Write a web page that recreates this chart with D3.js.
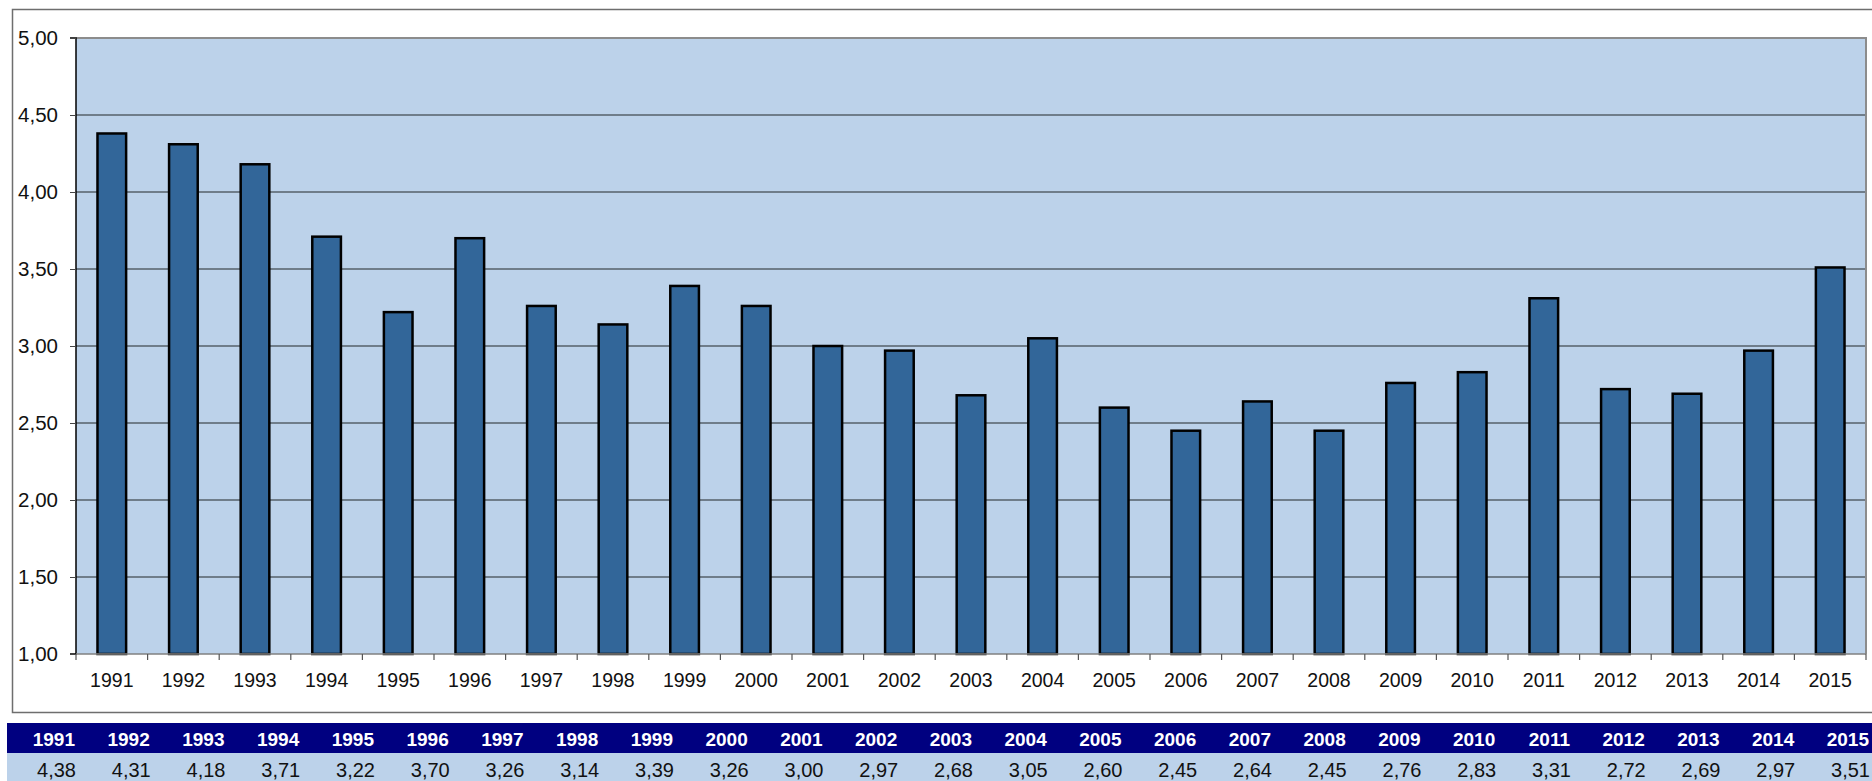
<!DOCTYPE html>
<html lang="en">
<head>
  <meta charset="UTF-8">
  <title>Values 1991-2015</title>
  <script src="https://d3js.org/d3.v7.min.js"></script>
  <style>
    body { margin: 0; background: #fff; }
    svg { display: block; font-family: "Liberation Sans", Arial, sans-serif; }
  </style>
</head>
<body>
  <svg width="1872" height="781"></svg>
  <script>
    const years = ["1991","1992","1993","1994","1995","1996","1997","1998","1999","2000",
                   "2001","2002","2003","2004","2005","2006","2007","2008","2009","2010",
                   "2011","2012","2013","2014","2015"];
    const values = [4.38, 4.31, 4.18, 3.71, 3.22, 3.70, 3.26, 3.14, 3.39, 3.26,
                    3.00, 2.97, 2.68, 3.05, 2.60, 2.45, 2.64, 2.45, 2.76, 2.83,
                    3.31, 2.72, 2.69, 2.97, 3.51];
    const yTicks = [1, 1.5, 2, 2.5, 3, 3.5, 4, 4.5, 5];

    const fmt = d => d3.format(".2f")(d).replace(".", ",");
    const svg = d3.select("svg");

    const plot = { left: 76, top: 38, right: 1866, bottom: 654 };

    // outer chart frame
    svg.append("path")
      .attr("d", "M1872,9.5H12.5V712.5H1872")
      .attr("fill", "none")
      .attr("stroke", "#6e6e6e")
      .attr("stroke-width", 1.5);

    const x = d3.scaleBand().domain(years).range([plot.left, plot.right]).paddingInner(0.6).paddingOuter(0.3);
    const y = d3.scaleLinear().domain([1, 5]).range([plot.bottom, plot.top]);

    svg.append("rect")
      .attr("x", plot.left).attr("y", plot.top)
      .attr("width", plot.right - plot.left).attr("height", plot.bottom - plot.top)
      .attr("fill", "#bcd2ea");

    // gridlines
    svg.append("g").selectAll("line")
      .data(yTicks.slice(1))
      .join("line")
      .attr("x1", plot.left).attr("x2", plot.right)
      .attr("y1", d => y(d)).attr("y2", d => y(d))
      .attr("stroke", d => d === 5 ? "#8c8c8c" : "#56606a")
      .attr("stroke-width", d => d === 5 ? 2 : 1.3);

    // right border
    svg.append("line")
      .attr("x1", plot.right).attr("x2", plot.right)
      .attr("y1", plot.top - 1).attr("y2", plot.bottom)
      .attr("stroke", "#8c8c8c").attr("stroke-width", 2);

    // bars
    svg.append("g").selectAll("rect")
      .data(values)
      .join("rect")
      .attr("x", (d, i) => x(years[i]))
      .attr("y", d => y(d))
      .attr("width", x.bandwidth())
      .attr("height", d => y(1) - y(d))
      .attr("fill", "#326699")
      .attr("stroke", "#000")
      .attr("stroke-width", 2.5);

    // y axis
    const yAxis = d3.axisLeft(y).tickValues(yTicks).tickFormat(fmt).tickSize(6).tickPadding(12);
    const gY = svg.append("g").attr("transform", `translate(${plot.left},0)`).call(yAxis);
    gY.select(".domain").attr("stroke", "#000").attr("stroke-width", 1.5).attr("d", `M-6,${plot.top}H0V${plot.bottom}H-6`);
    gY.selectAll(".tick line").attr("stroke", "#444");
    gY.selectAll("text").attr("font-size", 20.5).attr("fill", "#111").attr("font-family", "Liberation Sans, Arial, sans-serif");

    // x axis line and ticks at band boundaries
    svg.append("line")
      .attr("x1", plot.left).attr("x2", plot.right)
      .attr("y1", plot.bottom).attr("y2", plot.bottom)
      .attr("stroke", "#808080").attr("stroke-width", 1.5);
    svg.append("g").selectAll("line")
      .data(d3.range(years.length + 1))
      .join("line")
      .attr("x1", i => plot.left + i * x.step())
      .attr("x2", i => plot.left + i * x.step())
      .attr("y1", plot.bottom).attr("y2", plot.bottom + 6)
      .attr("stroke", "#555").attr("stroke-width", 1.2);
    svg.append("g").selectAll("text")
      .data(years)
      .join("text")
      .attr("x", d => x(d) + x.bandwidth() / 2)
      .attr("y", 687)
      .attr("text-anchor", "middle")
      .attr("font-size", 19.5)
      .attr("fill", "#111")
      .text(d => d);

    // data table below the chart
    const colW = 74.75;
    svg.append("rect").attr("x", 7).attr("y", 723).attr("width", 1865).attr("height", 30).attr("fill", "#000080");
    svg.append("rect").attr("x", 7).attr("y", 753).attr("width", 1865).attr("height", 28).attr("fill", "#bcd2ea");
    svg.append("g").selectAll("text")
      .data(years)
      .join("text")
      .attr("x", (d, i) => 75 + i * colW)
      .attr("y", 746)
      .attr("text-anchor", "end")
      .attr("font-size", 19)
      .attr("font-weight", "bold")
      .attr("fill", "#fff")
      .text(d => d);
    svg.append("g").selectAll("text")
      .data(values)
      .join("text")
      .attr("x", (d, i) => 76 + i * colW)
      .attr("y", 776.5)
      .attr("text-anchor", "end")
      .attr("font-size", 20)
      .attr("fill", "#111")
      .text(d => fmt(d));
  </script>
</body>
</html>
